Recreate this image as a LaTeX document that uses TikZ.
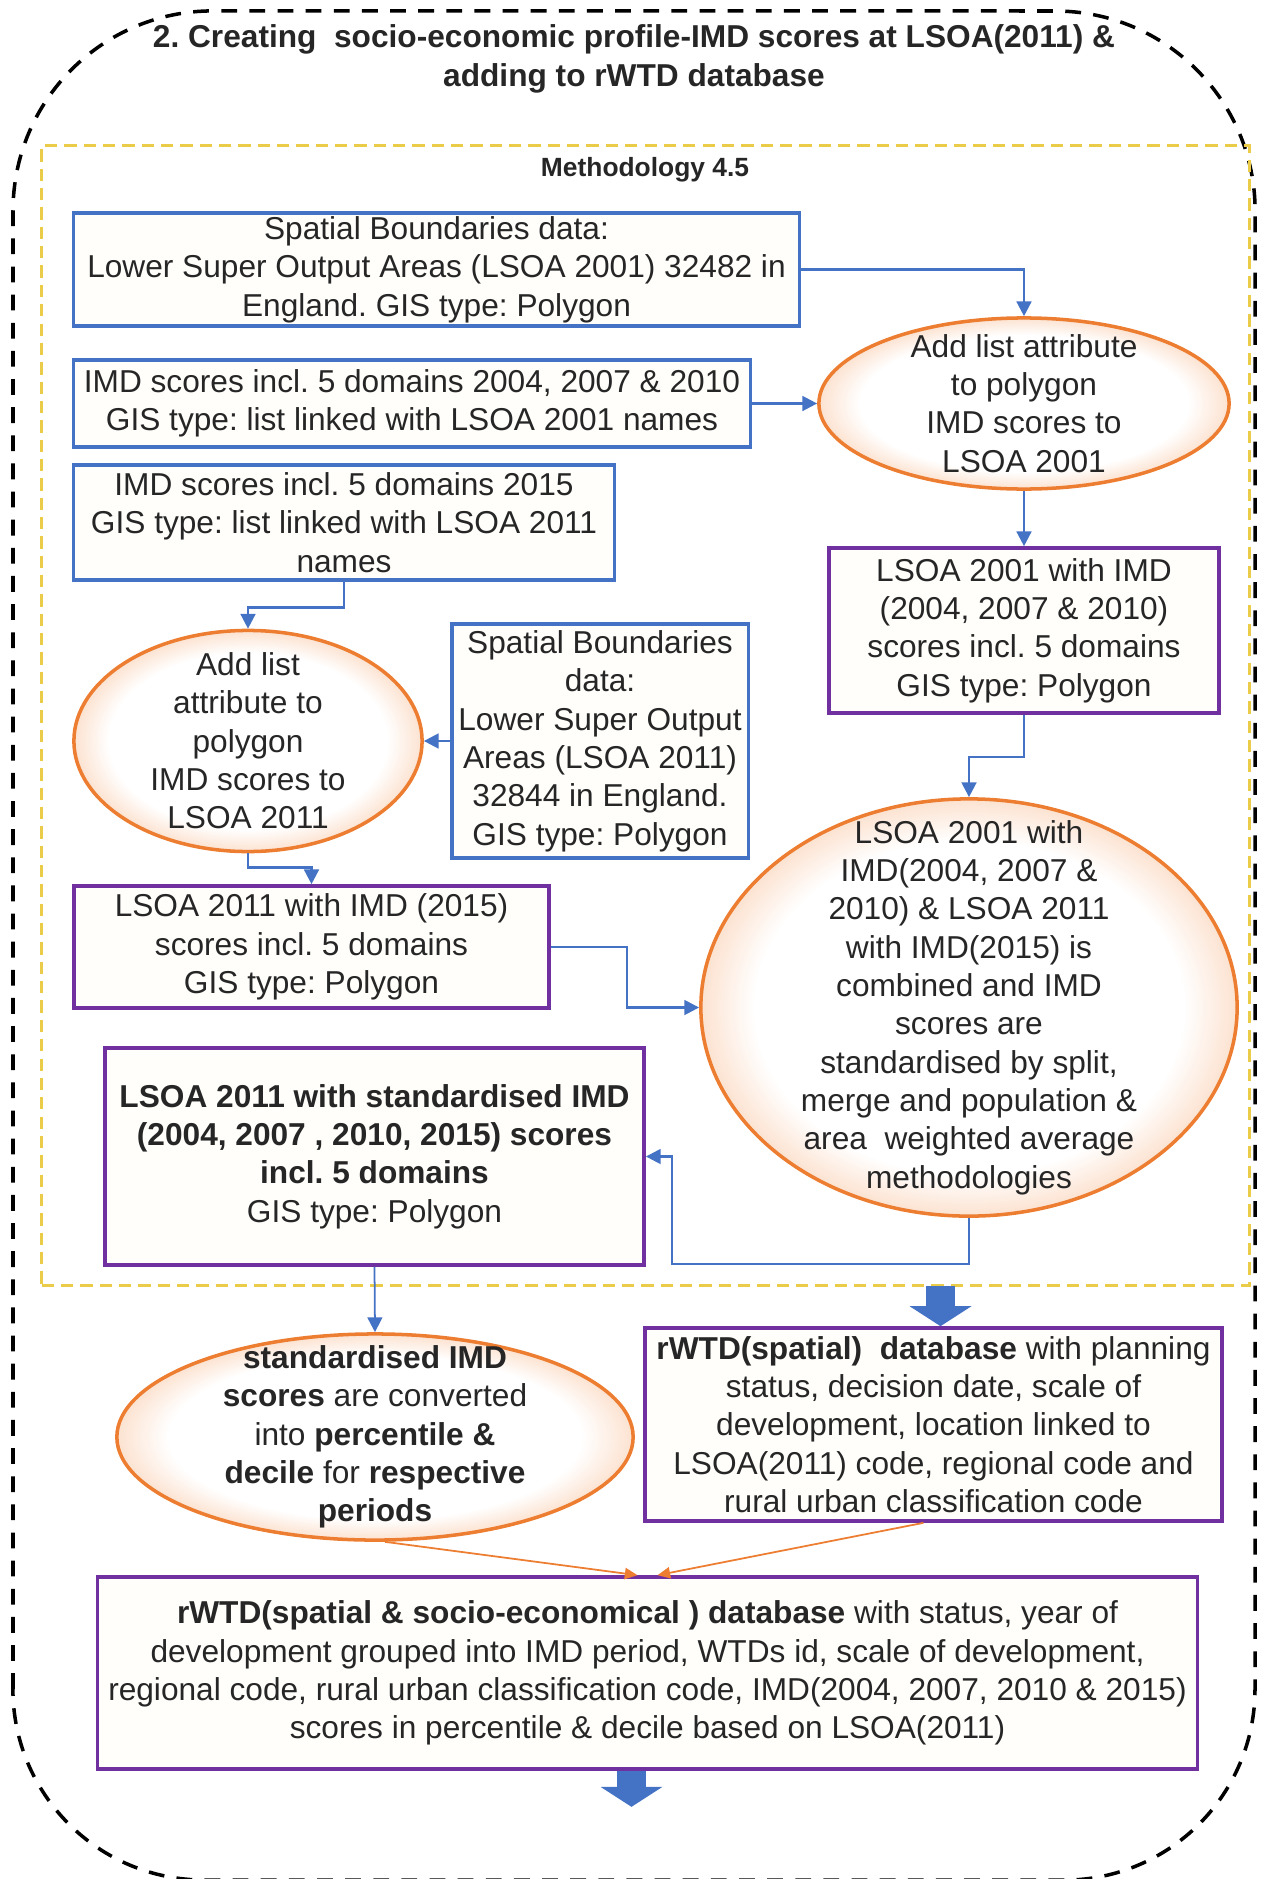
\documentclass[tikz,border=0pt]{standalone}
\usepackage{fontspec}
\setmainfont{Liberation Sans}
\usetikzlibrary{shapes.geometric,arrows.meta,positioning}

\definecolor{boxblue}{RGB}{68,114,196}
\definecolor{boxpurple}{RGB}{112,48,160}
\definecolor{ovalorange}{RGB}{237,125,49}
\definecolor{ovalfill}{RGB}{252,226,208}
\definecolor{boxfill}{RGB}{255,254,251}
\definecolor{methodyellow}{RGB}{234,204,72}
\definecolor{textgray}{RGB}{38,38,38}
\pgfdeclareradialshading{ovalshade}{\pgfpoint{0bp}{0bp}}{color(0bp)=(white); color(20bp)=(white); color(25bp)=(ovalfill); color(50bp)=(ovalfill)}

\tikzset{
	txt/.style={align=center, text=textgray, font=\fontsize{9}{10.9}\selectfont},
	bluebox/.style={txt, draw=boxblue, line width=0.9pt, fill=boxfill, inner sep=0pt},
	purplebox/.style={txt, draw=boxpurple, line width=1pt, fill=boxfill, inner sep=0pt},
	oval/.style={ellipse, draw=ovalorange, line width=1pt, shading=ovalshade, inner sep=0pt},
	arr/.style={draw=boxblue, line width=0.7pt, -{Triangle[length=4.2pt,width=4.2pt]}},
	orangearr/.style={draw=ovalorange, line width=0.5pt, -{Triangle[length=3.6pt,width=3.2pt]}},
	fatarr/.style={draw=boxblue, line width=0.29cm, -{Triangle[length=0.2cm,width=0.61cm]}},
}

\begin{document}
\frenchspacing
\begin{tikzpicture}[x=0.01cm,y=-0.01cm]
		\useasboundingbox (0,0) rectangle (1262,1879);
		% outer dashed frame and title
		\draw[line width=1pt, dash pattern=on 4.5pt off 3.5pt] (13,1689) -- (13,211) arc[start angle=180, end angle=90, radius=2cm] -- (1055,11) arc[start angle=90, end angle=0, radius=2cm] -- (1255,1689) arc[start angle=0, end angle=-90, radius=1.91cm] -- (204,1880) arc[start angle=270, end angle=180, radius=1.91cm] -- cycle;
		\node[txt, font=\bfseries\fontsize{9}{11.1}\selectfont] (title) at (634,59) {2. Creating\ \ socio-economic profile-IMD scores at LSOA(2011) \&\\adding to rWTD database};
		% methodology box
		\node[draw=methodyellow, line width=0.7pt, dash pattern=on 3.5pt off 2pt, minimum width=12.07cm, minimum height=11.39cm] (method) at (645.5,715.5) {};
		\node[txt, font=\bfseries\fontsize{7.5}{9}\selectfont] (methodlabel) at (645,170) {Methodology 4.5};

		\node[bluebox, minimum width=7.25cm, minimum height=1.13cm] (sb01) at (436.5,269.5) {Spatial Boundaries data:\\Lower Super Output Areas (LSOA 2001) 32482 in\\England. GIS type: Polygon};
		\node[bluebox, minimum width=6.76cm, minimum height=0.87cm] (imd01) at (412,403.5) {IMD scores incl. 5 domains 2004, 2007 \& 2010\\GIS type: list linked with LSOA 2001 names};
		\node[bluebox, minimum width=5.4cm, minimum height=1.15cm] (imd11) at (344,522.5) {IMD scores incl. 5 domains 2015\\GIS type: list linked with LSOA 2011\\names};
		\node[bluebox, minimum width=2.96cm, minimum height=2.34cm] (sb11) at (600,741) {Spatial Boundaries\\data:\\Lower Super Output\\Areas (LSOA 2011)\\32844 in England.\\GIS type: Polygon};

		\node[oval, minimum width=4.1cm, minimum height=1.71cm] (add01) at (1024,403.5) {};
		\node[txt] at (add01) {Add list attribute\\to polygon\\IMD scores to\\LSOA 2001};
		\node[oval, minimum width=3.48cm, minimum height=2.21cm] (add11) at (248,741) {};
		\node[txt] at (add11) {Add list\\attribute to\\polygon\\IMD scores to\\LSOA 2011};

		\node[purplebox, minimum width=3.9cm, minimum height=1.65cm] (lsoa01) at (1024,630.5) {LSOA 2001 with IMD\\(2004, 2007 \& 2010)\\scores incl. 5 domains\\GIS type: Polygon};
		\node[purplebox, minimum width=4.75cm, minimum height=1.22cm] (lsoa11) at (311.5,947) {LSOA 2011 with IMD (2015)\\scores incl. 5 domains\\GIS type: Polygon};

		\node[oval, minimum width=5.36cm, minimum height=4.17cm] (comb) at (969,1007.5) {};
		\node[txt] at (comb) {LSOA 2001 with\\IMD(2004, 2007 \&\\2010) \& LSOA 2011\\with IMD(2015) is\\combined and IMD\\scores are\\standardised by split,\\merge and population \&\\area\ \ weighted average\\methodologies};

		\node[purplebox, minimum width=5.39cm, minimum height=2.17cm] (std) at (374.5,1156.5) {\textbf{LSOA 2011 with standardised IMD}\\\textbf{(2004, 2007 , 2010, 2015) scores}\\\textbf{incl. 5 domains}\\GIS type: Polygon};

		\node[oval, minimum width=5.16cm, minimum height=2.06cm] (pct) at (375,1437) {};
		\node[txt] at (pct) {\textbf{standardised IMD}\\\textbf{scores} are converted\\into \textbf{percentile \&}\\\textbf{decile} for \textbf{respective}\\\textbf{periods}};

		\node[purplebox, minimum width=5.77cm, minimum height=1.93cm] (rwtd) at (933.5,1424.5) {\textbf{rWTD(spatial)\ \ database} with planning\\status, decision date, scale of\\development, location linked to\\LSOA(2011) code, regional code and\\rural urban classification code};
		\node[purplebox, minimum width=10.99cm, minimum height=1.92cm] (final) at (647.5,1673) {\textbf{rWTD(spatial \& socio-economical ) database} with status, year of\\development grouped into IMD period, WTDs id, scale of development,\\regional code, rural urban classification code, IMD(2004, 2007, 2010 \& 2015)\\scores in percentile \& decile based on LSOA(2011)};

		% connectors
		\draw[arr] (sb01.east) -| (add01.north);
		\draw[arr] (imd01.east) -- (add01.west);
		\draw[arr] (imd11.south) -- ++(0,26) -| (add11.north);
		\draw[arr] (sb11.west) -- (add11.east);
		\draw[arr] (add01.south) -- (lsoa01.north);
		\draw[arr] (lsoa01.south) -- ++(0,42) -| (comb.north);
		\draw[arr] (add11.south) -- ++(0,14) -| (lsoa11.north);
		\draw[arr] (lsoa11.east) -- ++(76,0) |- (comb.west);
		\draw[arr] (comb.south) -- ++(0,46) -- ++(-297,0) |- (std.east);
		\draw[arr, line width=0.5pt] (std.south) -- (pct.north);
		\draw[orangearr] ([xshift=0.1cm]pct.south) -- ([xshift=-0.1cm]final.north);
		\draw[orangearr] ([xshift=-0.1cm]rwtd.south) -- ([xshift=0.1cm]final.north);
		\draw[fatarr] ([xshift=0.07cm,yshift=0.4cm]rwtd.north) -- ([xshift=0.07cm]rwtd.north);
		\draw[fatarr] ([xshift=-0.16cm]final.south) -- ([xshift=-0.16cm,yshift=-0.36cm]final.south);
\end{tikzpicture}
\end{document}
